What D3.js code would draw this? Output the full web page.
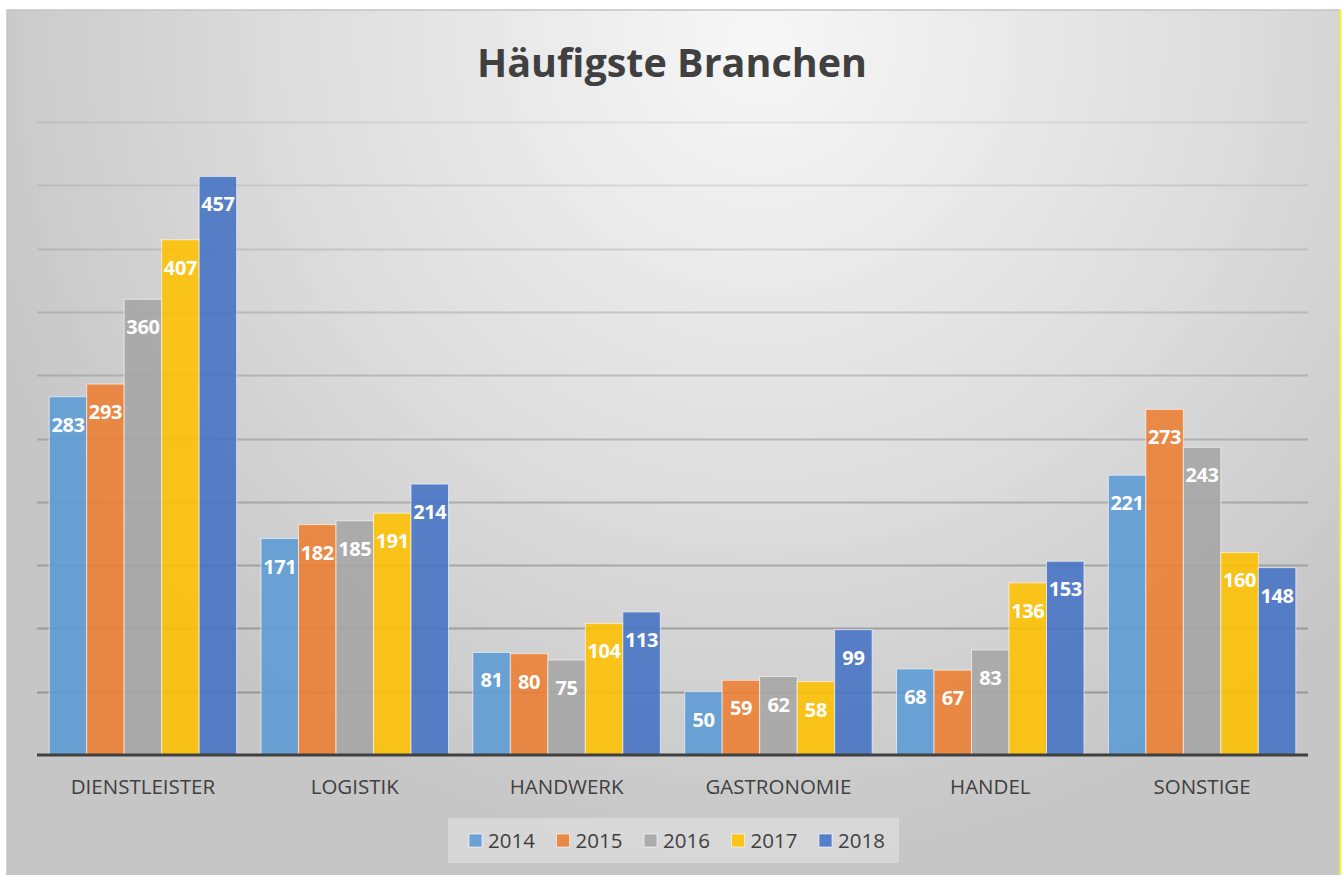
<!DOCTYPE html>
<html>
<head>
<meta charset="utf-8">
<script src="https://cdn.jsdelivr.net/npm/d3@7"></script>
<style>
  html, body { margin: 0; padding: 0; background: #ffffff; }
  svg { display: block; }
</style>
</head>
<body>
<div id="wrap"></div>
<script>
//  Chart data
const categories = ["DIENSTLEISTER", "LOGISTIK", "HANDWERK", "GASTRONOMIE", "HANDEL", "SONSTIGE"];
const years = ["2014", "2015", "2016", "2017", "2018"];
const values2014 = [283, 171, 81, 50, 68, 221];
const values2015 = [293, 182, 80, 59, 67, 273];
const values2016 = [360, 185, 75, 62, 83, 243];
const values2017 = [407, 191, 104, 58, 136, 160];
const values2018 = [457, 214, 113, 99, 153, 148];
const gridTicks = [50, 100, 150, 200, 250, 300, 350, 400, 450, 500];

const seriesValues = [values2014, values2015, values2016, values2017, values2018];
const colors = ["#5B9BD5", "#ED7D31", "#A5A5A5", "#FFC000", "#4472C4"];

const W = 1342, H = 875;
const frame = { x: 7, y: 10, w: 1333, h: 880 };
const plot = { left: 37, right: 1308, top: 122, bottom: 755 };

const svg = d3.select("#wrap").append("svg").attr("width", W).attr("height", H);
const defs = svg.append("defs");

//  Radial background like the office chart style
const bg = defs.append("radialGradient")
  .attr("id", "bg")
  .attr("gradientUnits", "userSpaceOnUse")
  .attr("cx", 760).attr("cy", 40).attr("r", 820);
bg.append("stop").attr("offset", "0").attr("stop-color", "#f7f7f7");
bg.append("stop").attr("offset", "0.55").attr("stop-color", "#dedede");
bg.append("stop").attr("offset", "1").attr("stop-color", "#c6c6c6");

svg.append("rect")
  .attr("x", frame.x).attr("y", frame.y)
  .attr("width", frame.w).attr("height", frame.h)
  .attr("fill", "url(#bg)")
  .attr("stroke", "#c4c4c4")
  .attr("stroke-width", 1.5);

//  yellow edge on the right
svg.append("line")
  .attr("x1", 1340.5).attr("x2", 1340.5)
  .attr("y1", frame.y).attr("y2", H)
  .attr("stroke", "#ffff00").attr("stroke-width", 2);

//  Scales
const x0 = d3.scaleBand().domain(categories).range([plot.left, plot.right]).paddingInner(0).paddingOuter(0);
const barW = x0.bandwidth() / (years.length + 0.65);
const x1 = d3.scaleBand().domain(years).range([0, barW * years.length]);
const groupOffset = (x0.bandwidth() - barW * years.length) / 2;
const y = d3.scaleLinear().domain([0, 500]).range([plot.bottom, plot.top]);

//  Gridlines (lighter towards the top)
const gridOpacity = d3.scaleLinear().domain([50, 500]).range([0.55, 0.12]);
svg.append("g")
  .selectAll("line")
  .data(gridTicks)
  .join("line")
  .attr("x1", plot.left).attr("x2", plot.right)
  .attr("y1", (d) => Math.round(y(d)) + 0.5)
  .attr("y2", (d) => Math.round(y(d)) + 0.5)
  .attr("stroke", "#6e6e6e")
  .attr("stroke-opacity", (d) => gridOpacity(d))
  .attr("stroke-width", 2);

//  Bars
const rows = [];
categories.forEach((c, i) => {
  years.forEach((yr, j) => {
    rows.push({ cat: c, year: yr, value: seriesValues[j][i], color: colors[j] });
  });
});

const bars = svg.append("g");
bars.selectAll("rect")
  .data(rows)
  .join("rect")
  .attr("x", (d) => x0(d.cat) + groupOffset + x1(d.year))
  .attr("width", x1.bandwidth())
  .attr("y", (d) => y(d.value))
  .attr("height", (d) => y(0) - y(d.value))
  .attr("fill", (d) => d.color)
  .attr("fill-opacity", 0.88)
  .attr("stroke", "#ffffff")
  .attr("stroke-opacity", 0.6)
  .attr("stroke-width", 1);

//  Data labels, inside end
bars.selectAll("text")
  .data(rows)
  .join("text")
  .attr("x", (d) => x0(d.cat) + groupOffset + x1(d.year) + x1.bandwidth() / 2)
  .attr("y", (d) => y(d.value) + 35)
  .attr("text-anchor", "middle")
  .attr("fill", "#ffffff")
  .style("font-family", "'Open Sans', sans-serif")
  .style("font-weight", "700")
  .style("font-size", "20px")
  .style("letter-spacing", "-0.4px")
  .text((d) => d.value);

//  Baseline
svg.append("line")
  .attr("x1", plot.left).attr("x2", plot.right)
  .attr("y1", plot.bottom).attr("y2", plot.bottom)
  .attr("stroke", "#404040").attr("stroke-width", 3);

//  Category axis labels
const xAxis = svg.append("g")
  .attr("transform", "translate(0," + plot.bottom + ")")
  .call(d3.axisBottom(x0).tickSize(0).tickPadding(24));
xAxis.select(".domain").remove();
xAxis.selectAll("text")
  .attr("fill", "#404040")
  .style("font-family", "'Open Sans', sans-serif")
  .style("font-size", "20.5px");

//  Title
svg.append("text")
  .attr("x", 672).attr("y", 77)
  .attr("text-anchor", "middle")
  .attr("fill", "#404040")
  .style("font-family", "'Open Sans', sans-serif")
  .style("font-weight", "700")
  .style("font-size", "39.5px")
  .text("Häufigste Branchen");

//  Legend
const legend = svg.append("g");
legend.append("rect")
  .attr("x", 448).attr("y", 818)
  .attr("width", 451).attr("height", 45)
  .attr("fill", "#ffffff").attr("fill-opacity", 0.3);

const legendX = d3.scalePoint().domain(years).range([469, 819]);
const items = legend.selectAll("g.item")
  .data(years)
  .join("g")
  .attr("class", "item")
  .attr("transform", (d) => "translate(" + legendX(d) + ",0)");
items.append("rect")
  .attr("x", 0).attr("y", 834)
  .attr("width", 13).attr("height", 13)
  .attr("fill", (d, i) => colors[i])
  .attr("fill-opacity", 0.88)
  .attr("stroke", "#ffffff").attr("stroke-opacity", 0.6);
items.append("text")
  .attr("x", 19).attr("y", 848)
  .attr("fill", "#404040")
  .style("font-family", "'Open Sans', sans-serif")
  .style("font-size", "20.5px")
  .text((d) => d);
</script>
</body>
</html>
